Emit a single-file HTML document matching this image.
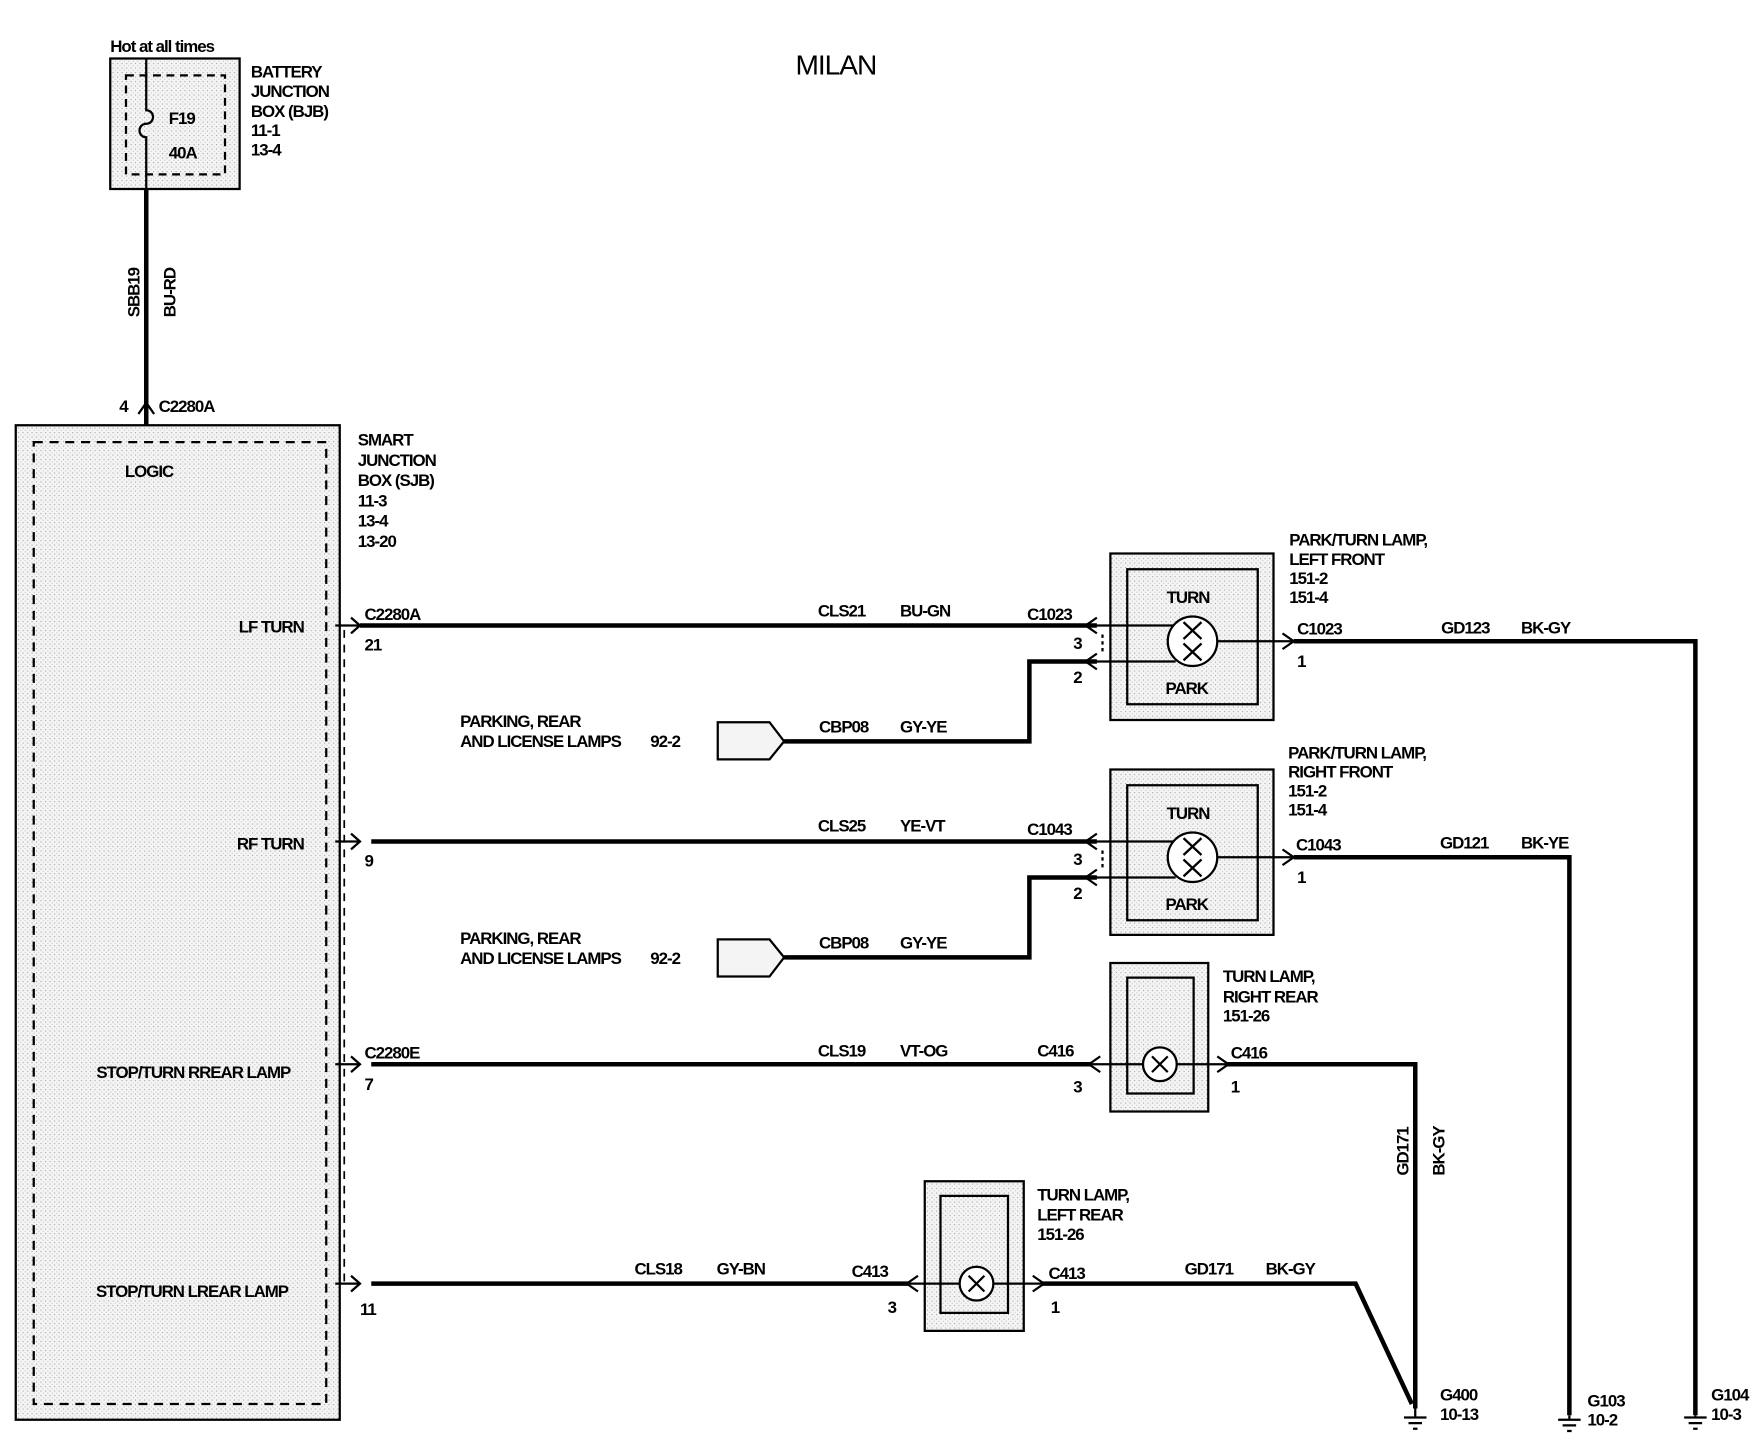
<!DOCTYPE html>
<html><head><meta charset="utf-8"><style>
html,body{margin:0;padding:0;background:#fff;width:1764px;height:1440px;overflow:hidden}
svg{display:block}
text{font-family:"Liberation Sans Narrow","Liberation Sans",sans-serif;font-size:15px;fill:#000;letter-spacing:-0.9px;font-weight:bold}
</style></head><body>
<svg width="1764" height="1440" viewBox="0 0 1764 1440" xmlns="http://www.w3.org/2000/svg">
<defs>
<pattern id="dots" width="4" height="4" patternUnits="userSpaceOnUse"><rect width="4" height="4" fill="#f4f4f4"/><rect x="0" y="0" width="1" height="1" fill="#aaa"/><rect x="2" y="2" width="1" height="1" fill="#ccc"/></pattern>
</defs>
<g transform="scale(1.125)">
<text x="743" y="66" text-anchor="middle" style="font-size:25px;font-weight:normal">MILAN</text>

<!-- BJB -->
<text x="98" y="46">Hot at all times</text>
<rect x="98" y="52" width="115" height="116" fill="url(#dots)" stroke="#000" stroke-width="2"/>
<rect x="112" y="67" width="88" height="88" fill="none" stroke="#000" stroke-width="2" stroke-dasharray="7,5"/>
<path d="M130 52 V98 a6 6 0 0 1 0 12 a6 6 0 0 0 0 12 V168" fill="none" stroke="#000" stroke-width="2"/>
<text x="150" y="110">F19</text><text x="150" y="141">40A</text>
<text x="223" y="69">BATTERY</text><text x="223" y="86">JUNCTION</text><text x="223" y="104">BOX (BJB)</text><text x="223" y="121">11-1</text><text x="223" y="138">13-4</text>
<line x1="130" y1="168" x2="130" y2="393" stroke="#000" stroke-width="4"/>
<text transform="translate(124,282) rotate(-90)">SBB19</text>
<text transform="translate(156,282) rotate(-90)">BU-RD</text>
<path d="M123 368 L130 358 L137 368" fill="none" stroke="#000" stroke-width="2"/>
<text x="106" y="366">4</text><text x="141" y="366">C2280A</text>

<!-- SJB -->
<rect x="14" y="378" width="288" height="884" fill="url(#dots)" stroke="#000" stroke-width="2"/>
<rect x="30" y="393" width="260" height="855" fill="none" stroke="#000" stroke-width="2" stroke-dasharray="8,6"/>
<text x="111" y="424">LOGIC</text>
<text x="318" y="396">SMART</text><text x="318" y="414">JUNCTION</text><text x="318" y="432">BOX (SJB)</text><text x="318" y="450">11-3</text><text x="318" y="468">13-4</text><text x="318" y="486">13-20</text>
<line x1="306" y1="560" x2="306" y2="1140" stroke="#000" stroke-width="1.5" stroke-dasharray="7,6"/>
<g text-anchor="end"><text x="270" y="562">LF TURN</text><text x="270" y="755">RF TURN</text><text x="258" y="958">STOP/TURN RREAR LAMP</text><text x="256" y="1153">STOP/TURN LREAR LAMP</text></g>

<g fill="none" stroke="#000" stroke-width="2">
<path d="M312 549 L320 556 L312 563"/><path d="M312 741 L320 748 L312 755"/><path d="M312 939 L320 946 L312 953"/><path d="M312 1134 L320 1141 L312 1148"/>
</g>
<g stroke="#000" stroke-width="4" fill="none">
<line x1="320" y1="556" x2="975" y2="556"/>
<line x1="330" y1="748" x2="975" y2="748"/>
<line x1="330" y1="946" x2="970" y2="946"/>
<line x1="330" y1="1141" x2="808" y2="1141"/>
<polyline points="697,659 915,659 915,588 975,588"/>
<polyline points="697,851 915,851 915,780 975,780"/>
<polyline points="1150,570 1507,570 1507,1258"/>
<polyline points="1150,762 1395,762 1395,1258"/>
<polyline points="1090,946 1258,946 1258,1252"/>
<polyline points="926,1141 1205,1141 1255,1248"/>
</g>
<g stroke="#000" stroke-width="2" fill="none">
<line x1="298" y1="556" x2="320" y2="556"/><line x1="298" y1="748" x2="320" y2="748"/><line x1="298" y1="946" x2="320" y2="946"/><line x1="298" y1="1141" x2="320" y2="1141"/>
</g>
<text x="324" y="551">C2280A</text><text x="324" y="578">21</text>
<text x="324" y="770">9</text>
<text x="324" y="941">C2280E</text><text x="324" y="969">7</text>
<text x="320" y="1169">11</text>

<text x="727" y="548">CLS21</text><text x="800" y="548">BU-GN</text><text x="913" y="551">C1023</text>
<text x="727" y="739">CLS25</text><text x="800" y="739">YE-VT</text><text x="913" y="742">C1043</text>
<text x="727" y="939">CLS19</text><text x="800" y="939">VT-OG</text><text x="922" y="939">C416</text>
<text x="564" y="1133">CLS18</text><text x="637" y="1133">GY-BN</text><text x="757" y="1135">C413</text>
<text x="954" y="577">3</text><text x="954" y="607">2</text>
<text x="954" y="769">3</text><text x="954" y="799">2</text>
<text x="954" y="971">3</text><text x="789" y="1167">3</text>

<text x="409" y="646">PARKING, REAR</text><text x="409" y="664">AND LICENSE LAMPS</text><text x="578" y="664">92-2</text>
<polygon points="638,642 684,642 697,659 684,675 638,675" fill="#f4f4f4" stroke="#000" stroke-width="2"/>
<text x="728" y="651">CBP08</text><text x="800" y="651">GY-YE</text>
<text x="409" y="839">PARKING, REAR</text><text x="409" y="857">AND LICENSE LAMPS</text><text x="578" y="857">92-2</text>
<polygon points="638,835 684,835 697,851 684,868 638,868" fill="#f4f4f4" stroke="#000" stroke-width="2"/>
<text x="728" y="843">CBP08</text><text x="800" y="843">GY-YE</text>

<!-- LF lamp -->
<rect x="987" y="492" width="145" height="148" fill="url(#dots)" stroke="#000" stroke-width="2"/>
<rect x="1002" y="506" width="116" height="120" fill="url(#dots)" stroke="#000" stroke-width="2"/>
<text x="1037" y="536">TURN</text><text x="1036" y="617">PARK</text>
<g stroke="#000" stroke-width="2" fill="none">
<line x1="965" y1="556" x2="1045" y2="556"/><line x1="965" y1="588" x2="1045" y2="588"/><line x1="1082" y1="570" x2="1150" y2="570"/>
<circle cx="1060" cy="570" r="22" fill="#fff"/>
<path d="M1052 553 L1068 568 M1068 553 L1052 568 M1052 572 L1068 587 M1068 572 L1052 587"/>
<path d="M975 549 L965 556 L975 563"/><path d="M975 581 L965 588 L975 595"/><path d="M1140 563 L1150 570 L1140 577"/>
<line x1="980" y1="564" x2="980" y2="580" stroke-dasharray="3,3"/>
</g>
<text x="1146" y="485">PARK/TURN LAMP,</text><text x="1146" y="502">LEFT FRONT</text><text x="1146" y="519">151-2</text><text x="1146" y="536">151-4</text>
<text x="1153" y="564">C1023</text><text x="1153" y="593">1</text>
<text x="1281" y="563">GD123</text><text x="1352" y="563">BK-GY</text>

<!-- RF lamp -->
<rect x="987" y="684" width="145" height="147" fill="url(#dots)" stroke="#000" stroke-width="2"/>
<rect x="1002" y="698" width="116" height="120" fill="url(#dots)" stroke="#000" stroke-width="2"/>
<text x="1037" y="728">TURN</text><text x="1036" y="809">PARK</text>
<g stroke="#000" stroke-width="2" fill="none">
<line x1="965" y1="748" x2="1045" y2="748"/><line x1="965" y1="780" x2="1045" y2="780"/><line x1="1082" y1="762" x2="1150" y2="762"/>
<circle cx="1060" cy="762" r="22" fill="#fff"/>
<path d="M1052 745 L1068 760 M1068 745 L1052 760 M1052 764 L1068 779 M1068 764 L1052 779"/>
<path d="M975 741 L965 748 L975 755"/><path d="M975 773 L965 780 L975 787"/><path d="M1140 755 L1150 762 L1140 769"/>
<line x1="980" y1="756" x2="980" y2="772" stroke-dasharray="3,3"/>
</g>
<text x="1145" y="674">PARK/TURN LAMP,</text><text x="1145" y="691">RIGHT FRONT</text><text x="1145" y="708">151-2</text><text x="1145" y="725">151-4</text>
<text x="1152" y="756">C1043</text><text x="1153" y="785">1</text>
<text x="1280" y="754">GD121</text><text x="1352" y="754">BK-YE</text>

<!-- RR lamp -->
<rect x="987" y="856" width="87" height="132" fill="url(#dots)" stroke="#000" stroke-width="2"/>
<rect x="1002" y="869" width="59" height="103" fill="url(#dots)" stroke="#000" stroke-width="2"/>
<g stroke="#000" stroke-width="2" fill="none">
<line x1="965" y1="946" x2="1090" y2="946"/>
<circle cx="1031" cy="946" r="15" fill="#fff"/>
<path d="M1024 939 L1038 953 M1038 939 L1024 953"/>
<path d="M978 939 L968 946 L978 953"/><path d="M1082 939 L1092 946 L1082 953"/>
</g>
<text x="1087" y="873">TURN LAMP,</text><text x="1087" y="891">RIGHT REAR</text><text x="1087" y="908">151-26</text>
<text x="1094" y="941">C416</text><text x="1094" y="971">1</text>
<text transform="translate(1252,1045) rotate(-90)">GD171</text>
<text transform="translate(1284,1045) rotate(-90)">BK-GY</text>

<!-- LR lamp -->
<rect x="822" y="1050" width="88" height="133" fill="url(#dots)" stroke="#000" stroke-width="2"/>
<rect x="836" y="1063" width="60" height="104" fill="url(#dots)" stroke="#000" stroke-width="2"/>
<g stroke="#000" stroke-width="2" fill="none">
<line x1="805" y1="1141" x2="928" y2="1141"/>
<circle cx="868" cy="1141" r="15" fill="#fff"/>
<path d="M861 1134 L875 1148 M875 1134 L861 1148"/>
<path d="M816 1134 L806 1141 L816 1148"/><path d="M918 1134 L928 1141 L918 1148"/>
</g>
<text x="922" y="1067">TURN LAMP,</text><text x="922" y="1085">LEFT REAR</text><text x="922" y="1102">151-26</text>
<text x="932" y="1137">C413</text><text x="934" y="1167">1</text>
<text x="1053" y="1133">GD171</text><text x="1125" y="1133">BK-GY</text>

<g stroke="#000" stroke-width="2">
<line x1="1258" y1="1248" x2="1258" y2="1260"/><line x1="1248" y1="1260" x2="1268" y2="1260"/><line x1="1252" y1="1265" x2="1264" y2="1265"/><line x1="1256" y1="1270" x2="1260" y2="1270"/>
<line x1="1395" y1="1258" x2="1395" y2="1262"/><line x1="1385" y1="1262" x2="1405" y2="1262"/><line x1="1389" y1="1267" x2="1401" y2="1267"/><line x1="1393" y1="1272" x2="1397" y2="1272"/>
<line x1="1507" y1="1258" x2="1507" y2="1260"/><line x1="1497" y1="1260" x2="1517" y2="1260"/><line x1="1501" y1="1265" x2="1513" y2="1265"/><line x1="1505" y1="1270" x2="1509" y2="1270"/>
</g>
<text x="1280" y="1245">G400</text><text x="1280" y="1262">10-13</text>
<text x="1411" y="1250">G103</text><text x="1411" y="1267">10-2</text>
<text x="1521" y="1245">G104</text><text x="1521" y="1262">10-3</text>
</g>
</svg>
</body></html>
